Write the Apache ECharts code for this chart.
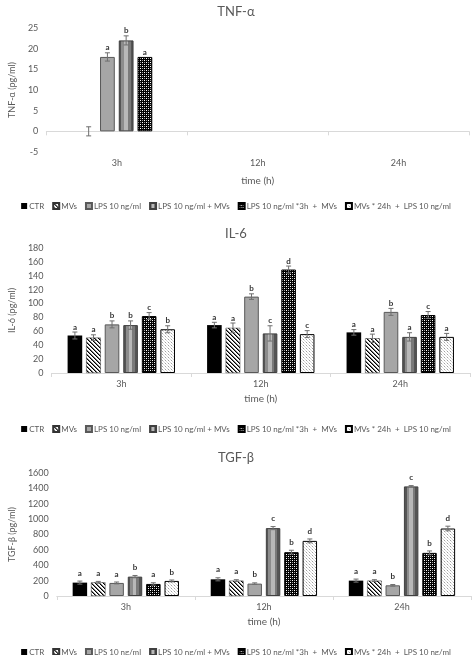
<!DOCTYPE html>
<html><head><meta charset="utf-8">
<script src="https://cdn.jsdelivr.net/npm/echarts@6/dist/echarts.min.js"></script>
<style>html,body{margin:0;padding:0;background:#fff}#c{width:472px;height:655px}</style>
</head><body><div id="c"></div>
<script>
// ---------- DATA ----------
const categories = ['3h', '12h', '24h'];
const seriesNames = ['CTR', 'MVs', 'LPS 10 ng/ml', 'LPS 10 ng/ml + MVs', 'LPS 10 ng/ml *3h  +  MVs', 'MVs * 24h  +  LPS 10 ng/ml'];

const panelTitles = ['TNF-α', 'IL-6', 'TGF-β'];
const yAxisNames = ['TNF-α (pg/ml)', 'IL-6 (pg/ml)', 'TGF-β (pg/ml)'];
const xAxisName = 'time (h)';

// TNF-α  (per series: [3h, 12h, 24h])
const tnfValues  = [[0, null, null], [0, null, null], [18, null, null], [22, null, null], [18, null, null], [0, null, null]];
const tnfErrors  = [[0, 0, 0], [1.1, 0, 0], [1, 0, 0], [1.1, 0, 0], [0, 0, 0], [0, 0, 0]];
const tnfLetters = [['', '', ''], ['', '', ''], ['a', '', ''], ['b', '', ''], ['a', '', ''], ['', '', '']];
const tnfTicks = { min: -5, max: 25, interval: 5 };

// IL-6
const il6Values  = [[54, 69, 58.5], [51, 65, 50], [70, 110, 88], [69, 57, 52], [82, 149, 83.5], [63, 56, 52]];
const il6Errors  = [[5, 4, 4], [4, 7, 6], [5, 4, 5], [6, 11, 6], [5, 5, 5], [5, 5, 5]];
const il6Letters = [['a', 'a', 'a'], ['a', 'a', 'a'], ['b', 'b', 'b'], ['b', 'c', 'a'], ['c', 'd', 'c'], ['b', 'c', 'a']];
const il6Ticks = { min: 0, max: 180, interval: 20 };

// TGF-β
const tgfValues  = [[174, 217, 200], [178, 200, 200], [170, 161, 139], [252, 883, 1426], [157, 570, 561], [196, 717, 878]];
const tgfErrors  = [[20, 20, 20], [12, 12, 12], [12, 10, 10], [15, 20, 10], [15, 25, 25], [12, 25, 30]];
const tgfLetters = [['a', 'a', 'a'], ['a', 'a', 'a'], ['a', 'b', 'b'], ['b', 'c', 'c'], ['a', 'b', 'b'], ['b', 'd', 'd']];
const tgfTicks = { min: 0, max: 1600, interval: 200 };

// ---------- STYLE ----------
const FONT = 'Lato, "Liberation Sans", sans-serif';
const TXT = '#595959';
const CAT_GAP = 0.23, BAR_GAP = 0.27;

function makePattern(size, draw) {
  const c = document.createElement('canvas');
  c.width = size; c.height = size;
  const ctx = c.getContext('2d');
  draw(ctx);
  return { image: c, repeat: 'repeat' };
}
const hatch = makePattern(4, ctx => {
  ctx.fillStyle = '#fff'; ctx.fillRect(0, 0, 4, 4);
  for (let i = 0; i < 4; i++) {
    ctx.fillStyle = '#000'; ctx.fillRect(i, i, 1, 1);
    ctx.fillStyle = '#7a7a7a'; ctx.fillRect((i + 1) % 4, i, 1, 1);
  }
});
const mesh = makePattern(4, ctx => {
  ctx.fillStyle = '#000'; ctx.fillRect(0, 0, 4, 4);
  ctx.fillStyle = '#fff';
  ctx.fillRect(0, 0, 1, 1); ctx.fillRect(2, 2, 1, 1);
  ctx.fillStyle = '#9a9a9a';
  ctx.fillRect(2, 0, 1, 1); ctx.fillRect(0, 2, 1, 1);
});
const dots = makePattern(3, ctx => {
  ctx.fillStyle = '#fff'; ctx.fillRect(0, 0, 3, 3);
  ctx.fillStyle = '#a0a0a0';
  ctx.fillRect(0, 0, 1, 1);
  ctx.fillStyle = '#d8d8d8';
  ctx.fillRect(1, 1, 1, 1); ctx.fillRect(2, 2, 1, 1);
});
const stripes = {
  type: 'linear', x: 0, y: 0, x2: 1, y2: 0,
  colorStops: [
    { offset: 0, color: '#555' }, { offset: 0.18, color: '#555' },
    { offset: 0.18, color: '#8c8c8c' }, { offset: 0.36, color: '#8c8c8c' },
    { offset: 0.36, color: '#b8b8b8' }, { offset: 0.6, color: '#b8b8b8' },
    { offset: 0.6, color: '#7a7a7a' }, { offset: 0.8, color: '#7a7a7a' },
    { offset: 0.8, color: '#555' }, { offset: 1, color: '#555' }
  ]
};
const barStyles = [
  { color: '#000' },
  { color: hatch, borderColor: '#333', borderWidth: 0.5 },
  { color: '#a6a6a6', borderColor: '#595959', borderWidth: 1 },
  { color: stripes, borderColor: '#404040', borderWidth: 1 },
  { color: mesh, borderColor: '#000', borderWidth: 1 },
  { color: dots, borderColor: '#000', borderWidth: 1 }
];

const panels = [
  { values: tnfValues, errors: tnfErrors, letters: tnfLetters, ticks: tnfTicks,
    grid: { left: 38, right: 3, top: 28, height: 124 }, titleTop: 0, legendTop: 197, xNameGap: 24, yNameGap: 25, letterGap: 1 },
  { values: il6Values, errors: il6Errors, letters: il6Letters, ticks: il6Ticks,
    grid: { left: 41, right: 2, top: 248, height: 125 }, titleTop: 222, legendTop: 420, xNameGap: 21, yNameGap: 29, letterGap: 1 },
  { values: tgfValues, errors: tgfErrors, letters: tgfLetters, ticks: tgfTicks,
    grid: { left: 48, right: 1, top: 473, height: 123 }, titleTop: 446, legendTop: 643, xNameGap: 21, yNameGap: 36, letterGap: 4 }
];

const option = {
  animation: false,
  textStyle: { fontFamily: FONT },
  title: [], legend: [], grid: [], xAxis: [], yAxis: [], series: []
};

panels.forEach((p, pi) => {
  option.title.push({
    text: panelTitles[pi], left: 'center', top: p.titleTop,
    textStyle: { fontFamily: FONT, fontSize: 13, fontWeight: 'normal', color: TXT }
  });
  option.legend.push({
    data: seriesNames, left: 'center', top: p.legendTop, itemWidth: 6, itemHeight: 6, itemGap: 8,
    icon: 'rect', selectedMode: false,
    textStyle: { fontFamily: FONT, fontSize: 8, color: TXT, padding: [0, 0, 0, -3] }
  });
  option.grid.push(p.grid);
  option.xAxis.push({
    type: 'category', gridIndex: pi, data: categories,
    name: xAxisName, nameLocation: 'middle', nameGap: p.xNameGap,
    nameTextStyle: { fontFamily: FONT, fontSize: 10, color: TXT },
    axisLine: { onZero: true, lineStyle: { color: '#d9d9d9' } },
    axisTick: { show: true, length: 4, lineStyle: { color: '#d9d9d9' } },
    axisLabel: { fontFamily: FONT, fontSize: 9, color: TXT, margin: 7 }
  });
  option.yAxis.push({
    type: 'value', gridIndex: pi, min: p.ticks.min, max: p.ticks.max, interval: p.ticks.interval,
    name: yAxisNames[pi], nameLocation: 'middle', nameGap: p.yNameGap,
    nameTextStyle: { fontFamily: FONT, fontSize: 9, color: TXT },
    splitLine: { show: false }, axisLine: { show: false }, axisTick: { show: false },
    axisLabel: { fontFamily: FONT, fontSize: 9, color: TXT, margin: 8, formatter: v => String(v) }
  });
  seriesNames.forEach((name, si) => {
    option.series.push({
      type: 'bar', name: name, xAxisIndex: pi, yAxisIndex: pi,
      barCategoryGap: (CAT_GAP * 100) + '%', barGap: (BAR_GAP * 100) + '%',
      itemStyle: barStyles[si],
      data: p.values[si].map(v => v === 0 ? { value: 0, itemStyle: { borderWidth: 0 } } : v)
    });
  });
  seriesNames.forEach((name, si) => {
    const letters = p.letters[si];
    option.series.push({
      type: 'custom', name: 'err-' + pi + '-' + si, xAxisIndex: pi, yAxisIndex: pi, z: 5, silent: true,
      data: p.values[si].map((v, ci) => [ci, v, p.errors[si][ci]]),
      renderItem: function (params, api) {
        const ci = api.value(0), v = api.value(1), e = api.value(2);
        if (v == null || isNaN(v)) return null;
        const n = seriesNames.length;
        const band = api.size([1, 0])[0];
        const bw = band * (1 - CAT_GAP) / (n + (n - 1) * BAR_GAP);
        const total = n * bw + (n - 1) * BAR_GAP * bw;
        const off = -total / 2 + bw / 2 + si * bw * (1 + BAR_GAP);
        const x = api.coord([ci, v])[0] + off;
        const yTop = api.coord([ci, v + e])[1];
        const yBot = api.coord([ci, v - e])[1];
        const children = [];
        const ls = { stroke: '#6f6f6f', lineWidth: 1 };
        if (e > 0) {
          children.push({ type: 'line', shape: { x1: x, y1: yTop, x2: x, y2: yBot }, style: ls });
          children.push({ type: 'line', shape: { x1: x - 2.5, y1: yTop, x2: x + 2.5, y2: yTop }, style: ls });
          children.push({ type: 'line', shape: { x1: x - 2.5, y1: yBot, x2: x + 2.5, y2: yBot }, style: ls });
        }
        const letter = letters[ci];
        if (letter) {
          children.push({ type: 'text', x: x, y: yTop - p.letterGap,
            style: { text: letter, fontFamily: FONT, fontSize: 8, fontWeight: 'bold', fill: '#333',
                     align: 'center', verticalAlign: 'bottom' } });
        }
        return { type: 'group', children: children };
      }
    });
  });
});

const chart = echarts.init(document.getElementById('c'), null, { renderer: 'canvas' });
chart.setOption(option);
</script>
</body></html>
